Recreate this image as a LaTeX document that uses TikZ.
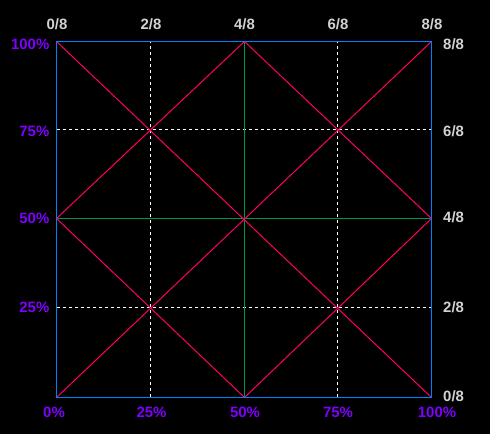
\documentclass[tikz,border=0pt]{standalone}
\usepackage{fontspec}
\setmainfont{Liberation Sans}
\usetikzlibrary{positioning}

\definecolor{frameblue}{RGB}{0,128,255}
\definecolor{midgreen}{RGB}{0,150,70}
\definecolor{diagred}{RGB}{255,0,100}
\definecolor{pctpurple}{RGB}{128,0,255}
\definecolor{fracgray}{RGB}{210,210,210}

\tikzset{
	pct/.style={text=pctpurple,font=\fontsize{15}{17}\selectfont\bfseries,inner sep=0pt},
	frac/.style={text=fracgray,font=\fontsize{15}{17}\selectfont\bfseries,inner sep=0pt},
	grid line/.style={white,line width=1bp,dash pattern=on 3bp off 3bp},
	diag line/.style={diagred,line width=1bp},
	mid line/.style={midgreen,line width=1.4bp}
}

\begin{document}
\begin{tikzpicture}[x=1bp,y=1bp]
	\fill[black] (0,0) rectangle (490,434);
	\useasboundingbox (0,0) rectangle (490,434);

	\coordinate (bl) at (56.5,36.5);
	\coordinate (br) at (431.5,36.5);
	\coordinate (tl) at (56.5,392.5);
	\coordinate (tr) at (431.5,392.5);
	\coordinate (lm) at (56.5,215.5);	%left middle
	\coordinate (rm) at (431.5,215.5);	%right middle
	\coordinate (tm) at (244.5,392.5);	%top middle
	\coordinate (bm) at (244.5,36.5);	%bottom middle

	% dashed quarter lines
	\draw[grid line] (150.5,36.5)--(150.5,392.5);
	\draw[grid line] (337.5,36.5)--(337.5,392.5);
	\draw[grid line] (56.5,126.5)--(431.5,126.5);
	\draw[grid line] (56.5,304.5)--(431.5,304.5);

	% middle cross
	\draw[mid line] (tm)--(bm);
	\draw[mid line] (lm)--(rm);

	% diagonals and diamond
	\draw[diag line] (bl)--(tr);
	\draw[diag line] (tl)--(br);
	\draw[diag line] (lm)--(tm)--(rm)--(bm)--cycle;

	\draw[frameblue,line width=1.6bp] (bl) rectangle (tr);

	% top fractions
	\node[frac] (t0) at (57,409.5)  {0/8};
	\node[frac] (t2) at (151,409.5) {2/8};
	\node[frac] (t4) at (244.5,409.5) {4/8};
	\node[frac] (t6) at (338,409.5) {6/8};
	\node[frac] (t8) at (432,409.5) {8/8};
	% right fractions
	\node[frac,anchor=west] (r8) at (443,390) {8/8};
	\node[frac,anchor=west] (r6) at (443,302.5) {6/8};
	\node[frac,anchor=west] (r4) at (443,216.5) {4/8};
	\node[frac,anchor=west] (r2) at (443,127) {2/8};
	\node[frac,anchor=west] (r0) at (443,38) {0/8};
	% left percents
	\node[pct,anchor=east] (l100) at (49.5,390) {100\%};
	\node[pct,anchor=east] (l75) at (49.5,302.5) {75\%};
	\node[pct,anchor=east] (l50) at (49.5,216) {50\%};
	\node[pct,anchor=east] (l25) at (49.5,127) {25\%};
	% bottom percents
	\node[pct] (b0) at (54,21.5)    {0\%};
	\node[pct] (b25) at (151.5,21.5) {25\%};
	\node[pct] (b50) at (245,21.5)   {50\%};
	\node[pct] (b75) at (338,21.5)   {75\%};
	\node[pct] (b100) at (437,21.5)  {100\%};
\end{tikzpicture}
\end{document}
